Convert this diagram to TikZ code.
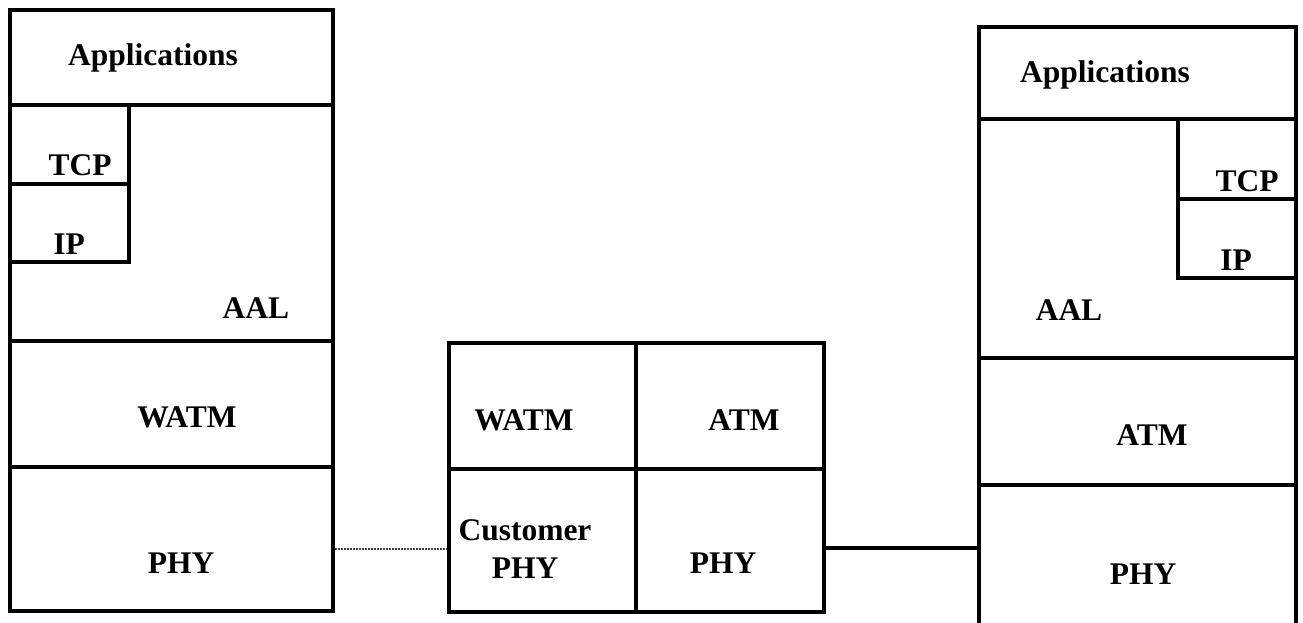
\documentclass[tikz,border=0pt]{standalone}
\usepackage{fontspec}
\setmainfont{Liberation Serif}
\usetikzlibrary{fit}
\begin{document}
\begin{tikzpicture}[x=1pt,y=-1pt,
  layer/.style={draw, line width=3.2pt, inner sep=0pt},
  lbl/.style={font=\fontsize{31.5}{36}\selectfont\bfseries, anchor=base, inner sep=0pt},
  conn/.style={line width=3.2pt},
  dotconn/.style={line width=1.5pt, black!75, dash pattern=on 2pt off 1pt}]
\useasboundingbox (0,0) rectangle (1303,623);
\clip (0,0) rectangle (1303,623);
% left stack
\node[layer, fit={(10,10) (333,105)}] (lapp) {};
\node[layer, fit={(10,105) (333,341)}] (laal) {};
\node[layer, fit={(10,105) (129,184)}] (ltcp) {};
\node[layer, fit={(10,184) (129,262)}] (lip) {};
\node[layer, fit={(10,341) (333,467)}] (lwatm) {};
\node[layer, fit={(10,467) (333,611)}] (lphy) {};
\node[lbl] (tlapp) at (153,66) {Applications};
\node[lbl] (tltcp) at (80,175) {TCP};
\node[lbl] (tlip) at (69,254) {IP};
\node[lbl] (tlaal) at (256,318) {AAL};
\node[lbl] (tlwatm) at (187,427) {WATM};
\node[lbl] (tlphy) at (181,573) {PHY};
% middle
\node[layer, fit={(449,343) (636,469)}] (mwatm) {};
\node[layer, fit={(636,343) (824,469)}] (matm) {};
\node[layer, fit={(449,469) (636,612)}] (mcust) {};
\node[layer, fit={(636,469) (824,612)}] (mphy) {};
\node[lbl] (tmwatm) at (524,430) {WATM};
\node[lbl] (tmatm) at (744,430) {ATM};
\node[lbl] (tmcust) at (525,540) {Customer};
\node[lbl] (tmcphy) at (525,578) {PHY};
\node[lbl] (tmphy) at (723,573) {PHY};
% right stack
\node[layer, fit={(979,27) (1296,119)}] (rapp) {};
\node[layer, fit={(979,119) (1296,358)}] (raal) {};
\node[layer, fit={(1178,119) (1296,199)}] (rtcp) {};
\node[layer, fit={(1178,199) (1296,278)}] (rip) {};
\node[layer, fit={(979,358) (1296,485)}] (ratm) {};
\node[layer, fit={(979,485) (1296,650)}] (rphy) {};
\node[lbl] (trapp) at (1105,83) {Applications};
\node[lbl] (trtcp) at (1247,191) {TCP};
\node[lbl] (trip) at (1236,270) {IP};
\node[lbl] (traal) at (1069,320) {AAL};
\node[lbl] (tratm) at (1152,445) {ATM};
\node[lbl] (trphy) at (1143,584) {PHY};
% connectors
\draw[dotconn] (lphy.east |- 0,549) -- (mcust.west |- 0,549);
\draw[conn] (mphy.east |- 0,548) -- (rphy.west |- 0,548);
\end{tikzpicture}
\end{document}
